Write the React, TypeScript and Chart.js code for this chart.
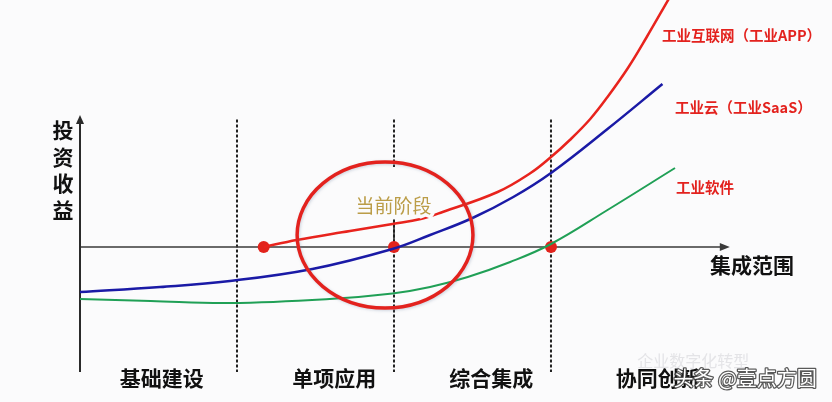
import React, { useEffect, useRef } from "react";
import { Chart, registerables } from "chart.js";

Chart.register(...registerables);

// ---- data (stage units on x, return units on y) ----
const stageLabels = ["基础建设", "单项应用", "综合集成", "协同创新"];
const stageBoundaries = [1, 2, 3];
const seriesNames = ["工业互联网（工业APP）", "工业云（工业SaaS）", "工业软件"];
const yAxisTitle = "投资收益";
const xAxisTitle = "集成范围";
const currentStageText = "当前阶段";

const appX = [1.17, 1.38, 1.72, 1.99, 2.17, 2.31, 2.66, 2.87, 3.0, 3.12, 3.25, 3.36, 3.49, 3.61, 3.75];
const appY = [0, 0.14, 0.32, 0.46, 0.56, 0.7, 1.1, 1.48, 1.8, 2.14, 2.56, 3.0, 3.58, 4.2, 4.96];

const saasX = [0, 0.51, 0.955, 1.48, 1.99, 2.23, 2.5, 2.76, 3.0, 3.36, 3.71];
const saasY = [-0.9, -0.8, -0.68, -0.44, -0.04, 0.24, 0.58, 1.0, 1.48, 2.36, 3.26];

const softX = [0, 0.45, 0.955, 1.59, 1.99, 2.23, 2.47, 2.74, 3.0, 3.36, 3.79];
const softY = [-1.04, -1.08, -1.12, -1.04, -0.93, -0.8, -0.6, -0.3, 0.06, 0.74, 1.58];

const markerX = [1.17, 2.0, 3.0];
const markerY = [0, 0, 0];

const zip = (xs: number[], ys: number[]) => xs.map((x, i) => ({ x, y: ys[i] }));

const CJK = '"Noto Sans CJK SC", "Noto Sans", sans-serif';

const decorPlugin = {
  id: "decor",
  beforeDraw(chart: any) {
    const { ctx, width, height } = chart;
    ctx.save();
    ctx.fillStyle = "#fbfbfc";
    ctx.fillRect(0, 0, width, height);
    ctx.restore();
  },
  beforeDatasetsDraw(chart: any) {
    const { ctx } = chart;
    const xs = chart.scales.x;
    const ys = chart.scales.y;
    const px = (v: number) => xs.getPixelForValue(v);
    const py = (v: number) => ys.getPixelForValue(v);
    ctx.save();
    // dashed stage boundaries
    ctx.strokeStyle = "#222";
    ctx.lineWidth = 2;
    ctx.setLineDash([3, 2]);
    stageBoundaries.forEach((b) => {
      ctx.beginPath();
      ctx.moveTo(px(b), py(2.55));
      ctx.lineTo(px(b), py(-2.5));
      ctx.stroke();
    });
    ctx.setLineDash([]);
    // white box behind current stage label
    ctx.fillStyle = "#fbfbfc";
    ctx.fillRect(px(1.72), py(1.6), px(2.3) - px(1.72), py(0.55) - py(1.6));
    ctx.strokeStyle = "#222";
    ctx.lineWidth = 1.5;
    ctx.beginPath();
    ctx.moveTo(px(2.0), py(0.55));
    ctx.lineTo(px(2.0), py(0));
    ctx.stroke();
    // x axis
    ctx.strokeStyle = "#3a3a3a";
    ctx.lineWidth = 1.5;
    ctx.beginPath();
    ctx.moveTo(px(0), py(0));
    ctx.lineTo(px(4.12), py(0));
    ctx.stroke();
    ctx.fillStyle = "#3a3a3a";
    ctx.beginPath();
    ctx.moveTo(px(4.12) + 3, py(0));
    ctx.lineTo(px(4.12) - 7, py(0) - 4);
    ctx.lineTo(px(4.12) - 7, py(0) + 4);
    ctx.closePath();
    ctx.fill();
    // y axis
    ctx.strokeStyle = "#2a2a2a";
    ctx.lineWidth = 2;
    ctx.beginPath();
    ctx.moveTo(px(0), py(-2.5));
    ctx.lineTo(px(0), py(2.58));
    ctx.stroke();
    ctx.fillStyle = "#2a2a2a";
    ctx.beginPath();
    ctx.moveTo(px(0), py(2.6) - 2);
    ctx.lineTo(px(0) - 4, py(2.6) + 7);
    ctx.lineTo(px(0) + 4, py(2.6) + 7);
    ctx.closePath();
    ctx.fill();
    ctx.restore();
  },
  afterDatasetsDraw(chart: any) {
    const { ctx } = chart;
    const xs = chart.scales.x;
    const ys = chart.scales.y;
    const px = (v: number) => xs.getPixelForValue(v);
    const py = (v: number) => ys.getPixelForValue(v);
    ctx.save();
    // ellipse around current stage
    const cx = px(1.943), cy = py(0.24);
    const rx = px(1.943 + 0.56) - cx;
    const ry = py(0.24) - py(0.24 + 1.46);
    ctx.strokeStyle = "#e3221e";
    ctx.lineWidth = 3.5;
    ctx.shadowColor = "rgba(120,140,170,0.35)";
    ctx.shadowBlur = 3;
    ctx.shadowOffsetX = 1;
    ctx.shadowOffsetY = 1;
    ctx.beginPath();
    ctx.ellipse(cx, cy, rx, ry, 0, 0, Math.PI * 2);
    ctx.stroke();
    ctx.shadowColor = "transparent";

    // current stage text
    ctx.font = `19px ${CJK}`;
    ctx.textAlign = "center";
    ctx.textBaseline = "middle";
    ctx.lineJoin = "round";
    ctx.strokeStyle = "#fbfbfc";
    ctx.lineWidth = 7;
    ctx.strokeText(currentStageText, px(1.997), py(0.82));
    ctx.fillStyle = "#bb9d48";
    ctx.fillText(currentStageText, px(1.997), py(0.82));

    // y axis title, vertical
    ctx.fillStyle = "#111";
    ctx.font = `bold 21px ${CJK}`;
    const chars = yAxisTitle.split("");
    chars.forEach((c, i) => {
      ctx.fillText(c, px(-0.108), py(2.34) + i * 26.7);
    });
    // x axis title
    ctx.fillText(xAxisTitle, px(4.28), py(-0.36));
    // stage labels
    const stageLabelX = [0.52, 1.62, 2.62, 3.68];
    stageLabels.forEach((s, i) => {
      ctx.fillText(s, px(stageLabelX[i]), py(-2.62));
    });

    // series labels
    ctx.font = `bold 14.5px ${CJK}`;
    ctx.textAlign = "left";
    ctx.fillStyle = "#e3221e";
    const labelPos = [
      [3.707, 4.24],
      [3.79, 2.8],
      [3.796, 1.2],
    ];
    seriesNames.forEach((n, i) => {
      ctx.fillText(n, px(labelPos[i][0]), py(labelPos[i][1]));
    });

    // watermark
    ctx.font = `16px ${CJK}`;
    ctx.fillStyle = "rgba(225,225,228,0.9)";
    ctx.fillText("企业数字化转型", px(3.55), py(-2.27));
    ctx.font = `20px ${CJK}`;
    ctx.strokeStyle = "rgba(60,60,60,0.85)";
    ctx.lineWidth = 2.5;
    ctx.strokeText("头条 @壹点方圆", px(3.78), py(-2.62));
    ctx.fillStyle = "#ffffff";
    ctx.fillText("头条 @壹点方圆", px(3.78), py(-2.62));
    ctx.restore();
  },
};

export default function App() {
  const ref = useRef<HTMLCanvasElement | null>(null);
  useEffect(() => {
    document.body.style.margin = "0";
    if (!ref.current) return;
    const chart = new Chart(ref.current, {
      type: "line",
      data: {
        datasets: [
          {
            label: seriesNames[0],
            data: zip(appX, appY),
            borderColor: "#e8231d",
            borderWidth: 2.5,
            pointRadius: 0,
            tension: 0.4,
          },
          {
            label: seriesNames[1],
            data: zip(saasX, saasY),
            borderColor: "#1a1aa6",
            borderWidth: 2.5,
            pointRadius: 0,
            tension: 0.4,
          },
          {
            label: seriesNames[2],
            data: zip(softX, softY),
            borderColor: "#20a056",
            borderWidth: 2,
            pointRadius: 0,
            tension: 0.4,
          },
          {
            label: "markers",
            data: zip(markerX, markerY),
            showLine: false,
            pointRadius: 6,
            pointBackgroundColor: "#e2231c",
            pointBorderColor: "#e2231c",
            borderWidth: 0,
          },
        ],
      },
      options: {
        responsive: false,
        animation: false,
        layout: { padding: 0, autoPadding: false },
        plugins: { legend: { display: false }, tooltip: { enabled: false } },
        scales: {
          x: { type: "linear", display: false, min: -0.5096, max: 4.79 },
          y: { type: "linear", display: false, min: -3.1, max: 4.94 },
        },
      },
      plugins: [decorPlugin],
    } as any);
    return () => chart.destroy();
  }, []);
  return (
    <div style={{ position: "fixed", left: 0, top: 0, width: 832, height: 402 }}>
      <canvas ref={ref} width={832} height={402} />
    </div>
  );
}
